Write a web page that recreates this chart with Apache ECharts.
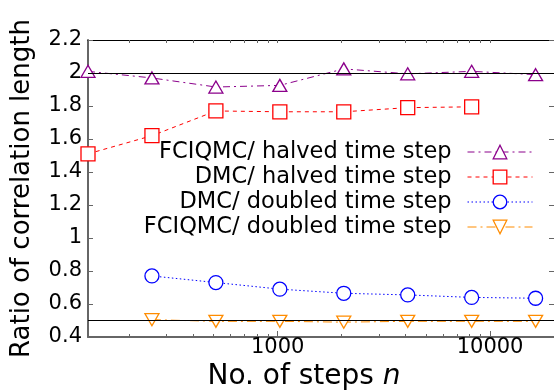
<!DOCTYPE html>
<html>
<head>
<meta charset="utf-8">
<script src="https://cdn.jsdelivr.net/npm/echarts@6/dist/echarts.min.js"></script>
<style>
html,body{margin:0;padding:0;background:#fff;}
#chart{width:554px;height:392px;}
</style>
</head>
<body>
<div id="chart"></div>
<script>
// ---- data ----
var stepsAll = [128, 256, 512, 1024, 2048, 4096, 8192, 16384];
var stepsHalvedDMC = [128, 256, 512, 1024, 2048, 4096, 8192];
var stepsDoubled = [256, 512, 1024, 2048, 4096, 8192, 16384];

var fciqmcHalved = [2.01, 1.97, 1.915, 1.925, 2.025, 1.995, 2.01, 1.99];
var dmcHalved = [1.51, 1.62, 1.77, 1.765, 1.765, 1.79, 1.795];
var dmcDoubled = [0.77, 0.73, 0.69, 0.665, 0.655, 0.64, 0.635];
var fciqmcDoubled = [0.505, 0.495, 0.495, 0.49, 0.495, 0.495, 0.495];

var seriesNames = ['FCIQMC/ halved time step', 'DMC/ halved time step', 'DMC/ doubled time step', 'FCIQMC/ doubled time step'];
var refLines = [2, 0.5];

var xMajorTicks = [1000, 10000];
var xMinorTicks = [200, 300, 400, 500, 600, 700, 800, 900, 2000, 3000, 4000, 5000, 6000, 7000, 8000, 9000];
var xMin = 128, xMax = 20000;
var yMin = 0.4, yMax = 2.2, yStep = 0.2;

function pairs(xs, ys) { return xs.map(function (x, i) { return [x, ys[i]]; }); }

var FONT = 'DejaVu Sans';
var axisGray = '#666666';
var colors = ['#8b008b', '#ff0000', '#0000ff', '#ff8c00'];
var dashes = [[7, 4, 2, 4], [4, 4], [1.5, 2.5], [9, 4, 2, 4]];
var legendTops = [140.5, 165.5, 190.5, 215.5];

var chart = echarts.init(document.getElementById('chart'), null, {renderer: 'canvas'});

function hollow(color) {
  return {color: '#ffffff', borderColor: color, borderWidth: 1.3};
}

var legends = seriesNames.map(function (n, i) {
  return {
    orient: 'vertical',
    align: 'right',
    right: 21,
    top: legendTops[i],
    padding: 0,
    itemWidth: 65,
    itemHeight: 17,
    selectedMode: false,
    itemStyle: {borderWidth: 1.3},
    lineStyle: {width: 1},
    textStyle: {fontFamily: FONT, fontSize: 22.5, color: '#000', lineHeight: 22, padding: [0, 11, 0, 0]},
    data: [{name: n, lineStyle: {color: colors[i], width: 1, type: dashes[i]},
            itemStyle: {color: '#ffffff', borderColor: colors[i], borderWidth: 1.3}}]
  };
});

var option = {
  animation: false,
  backgroundColor: '#ffffff',
  grid: {left: 88, top: 40, right: 0, bottom: 55, containLabel: false, outerBoundsMode: 'none'},
  legend: legends,
  xAxis: [
    {
      type: 'log', logBase: 10, min: xMin, max: xMax, position: 'bottom',
      name: 'No. of steps {i|n}', nameLocation: 'middle', nameGap: 21,
      nameTextStyle: {fontFamily: FONT, fontSize: 28, color: '#000', padding: [0, 34, 0, 0],
        rich: {i: {fontFamily: FONT, fontSize: 28, fontStyle: 'italic', color: '#000'}}},
      axisLine: {show: true, lineStyle: {color: axisGray, width: 2}},
      axisTick: {show: true, inside: true, length: 6, customValues: xMajorTicks, lineStyle: {color: axisGray, width: 1}},
      axisLabel: {show: true, customValues: xMajorTicks, margin: 0, fontFamily: FONT, fontSize: 21, color: '#000',
        formatter: function (v) { return String(Math.round(v)); }},
      splitLine: {show: false}, minorTick: {show: false}
    },
    {
      type: 'log', logBase: 10, min: xMin, max: xMax, position: 'bottom',
      axisLine: {show: false},
      axisTick: {show: true, inside: true, length: 3, customValues: xMinorTicks, lineStyle: {color: axisGray, width: 1}},
      axisLabel: {show: false}, splitLine: {show: false}
    },
    {
      type: 'log', logBase: 10, min: xMin, max: xMax, position: 'top',
      axisLine: {show: true, lineStyle: {color: '#000', width: 1}},
      axisTick: {show: true, inside: true, length: 3, customValues: xMinorTicks.concat(xMajorTicks), lineStyle: {color: axisGray, width: 1}},
      axisLabel: {show: false}, splitLine: {show: false}
    }
  ],
  yAxis: [
    {
      type: 'value', min: yMin, max: yMax, interval: yStep, position: 'left',
      name: 'Ratio of correlation length', nameLocation: 'middle', nameGap: 53,
      nameTextStyle: {fontFamily: FONT, fontSize: 26, color: '#000'},
      axisLine: {show: true, lineStyle: {color: axisGray, width: 2}},
      axisTick: {show: true, inside: true, length: 5, lineStyle: {color: axisGray, width: 1}},
      axisLabel: {margin: 6, fontFamily: FONT, fontSize: 21, color: '#000'},
      splitLine: {show: false}
    },
    {
      type: 'value', min: yMin, max: yMax, interval: yStep, position: 'right',
      axisLine: {show: false},
      axisTick: {show: true, inside: true, length: 5, lineStyle: {color: axisGray, width: 1}},
      axisLabel: {show: false}, splitLine: {show: false}
    }
  ],
  series: [
    {
      name: seriesNames[0], type: 'line', xAxisIndex: 0, yAxisIndex: 0,
      data: pairs(stepsAll, fciqmcHalved),
      symbol: 'triangle', symbolSize: [14, 12],
      lineStyle: {color: colors[0], width: 1, type: dashes[0]},
      itemStyle: hollow(colors[0]),
      emphasis: {disabled: true}, z: 4,
      markLine: {
        silent: true, symbol: 'none', animation: false,
        label: {show: false},
        lineStyle: {color: '#000', width: 1, type: 'solid'},
        data: refLines.map(function (v) { return {yAxis: v}; })
      }
    },
    {
      name: seriesNames[1], type: 'line', xAxisIndex: 0, yAxisIndex: 0,
      data: pairs(stepsHalvedDMC, dmcHalved),
      symbol: 'rect', symbolSize: 14,
      lineStyle: {color: colors[1], width: 1, type: dashes[1]},
      itemStyle: hollow(colors[1]),
      emphasis: {disabled: true}, z: 3
    },
    {
      name: seriesNames[2], type: 'line', xAxisIndex: 0, yAxisIndex: 0,
      data: pairs(stepsDoubled, dmcDoubled),
      symbol: 'circle', symbolSize: 14,
      lineStyle: {color: colors[2], width: 1, type: dashes[2]},
      itemStyle: hollow(colors[2]),
      emphasis: {disabled: true}, z: 3
    },
    {
      name: seriesNames[3], type: 'line', xAxisIndex: 0, yAxisIndex: 0,
      data: pairs(stepsDoubled, fciqmcDoubled),
      symbol: 'triangle', symbolRotate: 180, symbolSize: [14, 12],
      lineStyle: {color: colors[3], width: 1, type: dashes[3]},
      itemStyle: hollow(colors[3]),
      emphasis: {disabled: true}, z: 3
    }
  ]
};
chart.setOption(option);
</script>
</body>
</html>
